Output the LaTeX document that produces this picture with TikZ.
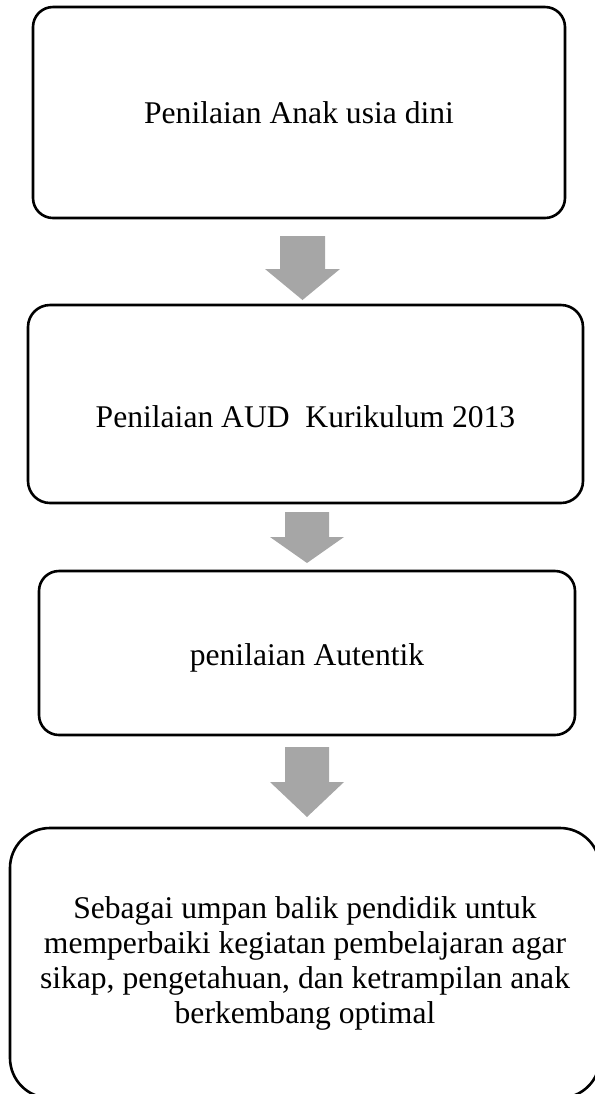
\documentclass[tikz,border=0pt]{standalone}
\usepackage{fontspec}
\setmainfont{Liberation Serif}
\definecolor{arrowgray}{RGB}{166,166,166}
\tikzset{
    stage/.style={draw, line width=1.3pt, rounded corners=10pt, inner xsep=0pt, inner ysep=0pt,
        anchor=base, font=\fontsize{15.8}{17.5}\selectfont},
    blockarrow/.style={fill=arrowgray, draw=none}
}
\begin{document}
\begin{tikzpicture}[x=0.5pt, y=-0.5pt]
    \useasboundingbox (0,0) rectangle (595,1094);

    \node[stage, minimum width=266pt, text height=58pt, text depth=47.5pt] (anak) at (299,123)
        {Penilaian Anak usia dini};
    \node[stage, minimum width=277.5pt, text height=61pt, text depth=38pt, rounded corners=11pt] (kurikulum) at (305.5,427)
        {Penilaian AUD\ \ Kurikulum 2013};
    \node[stage, minimum width=268pt, text height=47pt, text depth=35pt] (autentik) at (307,665)
        {penilaian Autentik};
    \node[stage, anchor=center, align=center, minimum width=295pt, minimum height=135pt, rounded corners=20pt] (umpan) at (305,963)
        {Sebagai umpan balik pendidik untuk\\
         memperbaiki kegiatan pembelajaran agar\\
         sikap, pengetahuan, dan ketrampilan anak\\
         berkembang optimal};

    \coordinate (a1) at (302.5,236);
    \coordinate (a2) at (307,512);
    \coordinate (a3) at (307,747);

    \fill[blockarrow]
        (a1) ++(-22.5,0) -- ++(45,0) -- ++(0,33) -- ++(15,0) -- ++(-37.5,31) -- ++(-37.5,-31) -- ++(15,0) -- cycle;
    \fill[blockarrow]
        (a2) ++(-22,0) -- ++(44,0) -- ++(0,25) -- ++(15,0) -- ++(-37,26) -- ++(-37,-26) -- ++(15,0) -- cycle;
    \fill[blockarrow]
        (a3) ++(-22,0) -- ++(44,0) -- ++(0,35) -- ++(15,0) -- ++(-37,35) -- ++(-37,-35) -- ++(15,0) -- cycle;
\end{tikzpicture}
\end{document}
